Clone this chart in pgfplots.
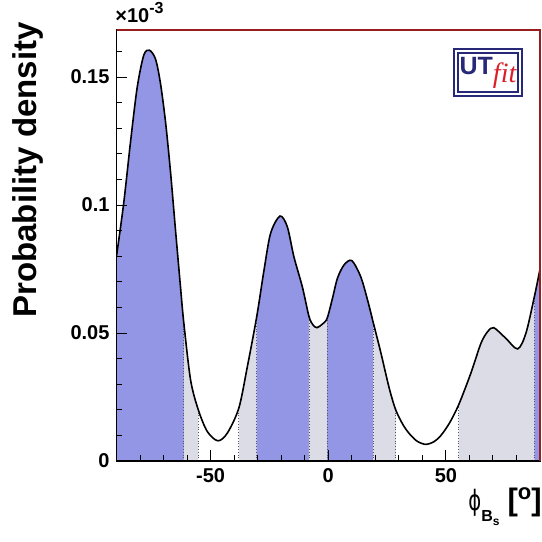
\documentclass[border=0pt]{standalone}
\usepackage{fontspec}
\setmainfont{Liberation Sans}
\newfontfamily\dejavu{DejaVu Sans}
\newfontfamily\libserif{Liberation Serif}
\usepackage{graphicx}
\usepackage{pgfplots}
\pgfplotsset{compat=1.18}
\usepackage{pgfplotstable}
\definecolor{pur}{RGB}{147,149,229}
\definecolor{gry}{RGB}{219,220,229}
\definecolor{frm}{RGB}{150,30,30}
\definecolor{utblue}{RGB}{40,40,120}
\definecolor{utred}{RGB}{220,30,40}

\pgfplotstableread{
x y
-90 0.080
-86.9 0.101
-84 0.125
-81.2 0.146
-78.4 0.1586
-76 0.1605
-73.4 0.157
-71.3 0.1475
-69.1 0.132
-67 0.1125
-64.9 0.090
-62.8 0.068
-61.4 0.054
-58.5 0.0316
-55.2 0.0199
-51.4 0.0115
-46.9 0.0079
-42.9 0.0109
-38 0.0207
-34.4 0.0368
-30.4 0.0564
-27.3 0.0746
-24.5 0.089
-20.5 0.0957
-17.4 0.0915
-14.6 0.0798
-11 0.068
-8.2 0.0565
-6.5 0.0532
-4.8 0.0521
-2.5 0.0535
-0.5 0.0557
1.8 0.0636
3.9 0.0714
6.7 0.0766
10 0.0783
13.8 0.072
16.7 0.0629
19.2 0.0538
22.3 0.0425
25.9 0.0285
28.7 0.0199
32 0.0138
35.1 0.0100
38 0.0076
41.5 0.0065
45 0.0076
47.9 0.0100
51.5 0.0148
55.4 0.0219
60.6 0.0343
64.9 0.046
67.7 0.0505
70.3 0.0521
75.5 0.0479
80.5 0.0438
84 0.0499
87.6 0.0642
90 0.075
}\curve

\pgfplotstableread{
x y
-61.4 0.054
-55.2 0.0199
-38 0.0207
-30.4 0.0564
-8.2 0.0565
-0.5 0.0557
19.2 0.0538
28.7 0.0199
55.4 0.0219
87.6 0.0642
}\bounds

\begin{document}
\begin{tikzpicture}
\begin{axis}[
  at={(58.25pt,40.5pt)}, anchor=south west,
  scale only axis, width=211.75pt, height=215.5pt,
  xmin=-90, xmax=90, ymin=0, ymax=0.1684,
  xtick={-50,0,50}, xticklabels={-50,0,50},
  ytick={0,0.05,0.1,0.15}, yticklabels={0,0.05,0.1,0.15},
  minor xtick={-80,-70,-60,-40,-30,-20,-10,10,20,30,40,60,70,80},
  minor ytick={0.01,0.02,0.03,0.04,0.06,0.07,0.08,0.09,0.11,0.12,0.13,0.14,0.16},
  tick pos=left, tick align=inside,
  major tick length=5.5pt, minor tick length=3pt,
  every tick/.style={black, line width=0.5pt},
  tick label style={font=\fontsize{10}{12}\selectfont\bfseries},
  scaled ticks=false,
  axis on top,
  axis line style={line width=0.6pt},
  region/.style={draw=none, smooth, restrict x to domain=#1},
]
\addplot[fill=pur, region={-90:-61.4}] table {\curve} \closedcycle;
\addplot[fill=gry, region={-61.4:-55.2}] table {\curve} \closedcycle;
\addplot[fill=gry, region={-38:-30.4}] table {\curve} \closedcycle;
\addplot[fill=pur, region={-30.4:-8.2}] table {\curve} \closedcycle;
\addplot[fill=gry, region={-8.2:-0.5}] table {\curve} \closedcycle;
\addplot[fill=pur, region={-0.5:19.2}] table {\curve} \closedcycle;
\addplot[fill=gry, region={19.2:28.7}] table {\curve} \closedcycle;
\addplot[fill=gry, region={55.4:87.6}] table {\curve} \closedcycle;
\addplot[fill=pur, region={87.6:90}] table {\curve} \closedcycle;
\addplot[ycomb, no marks, densely dotted, black!65, line width=0.4pt] table {\bounds};
\addplot[black, line width=0.8pt, smooth] table {\curve};
\end{axis}
\draw[frm, line width=0.6pt] (58.25pt,256pt) -- (270pt,256pt) -- (270pt,40.5pt);
% x10^-3
\node[anchor=base west, inner sep=0pt] at (57.5pt,259.5pt)
  {\fontsize{10}{12}\selectfont\bfseries ×10\raisebox{4.5pt}{\fontsize{8}{8}\selectfont -3}};
% y label
\node[rotate=90, inner sep=0pt] at (14pt,186pt)
  {\fontsize{16.5}{18}\selectfont\bfseries Probability density};
% x label
\node[anchor=base west, inner sep=0pt] at (234pt,16pt)
  {\scalebox{0.7}[1]{\dejavu\fontsize{14}{14}\selectfont ϕ}\raisebox{-6pt}{\fontsize{8}{8}\selectfont\bfseries B\raisebox{-1.8pt}{\fontsize{6}{6}\selectfont s}}\hspace{4pt}{\fontsize{15.5}{16}\selectfont\bfseries [\raisebox{5pt}{\fontsize{11}{11}\selectfont o}]}};
% UTfit logo
\node[draw=utblue, line width=1.2pt, double=white, double distance=0.6pt, fill=white, minimum width=32pt, minimum height=21.5pt, inner sep=1pt] at (244pt,234.75pt)
  {\fontsize{12.5}{12.5}\selectfont\bfseries\color{utblue}UT\raisebox{-4pt}{\libserif\itshape\mdseries\fontsize{14}{14}\selectfont\color{utred}fit}};
\path (0,0) rectangle (271pt,271pt);
\end{tikzpicture}
\end{document}
